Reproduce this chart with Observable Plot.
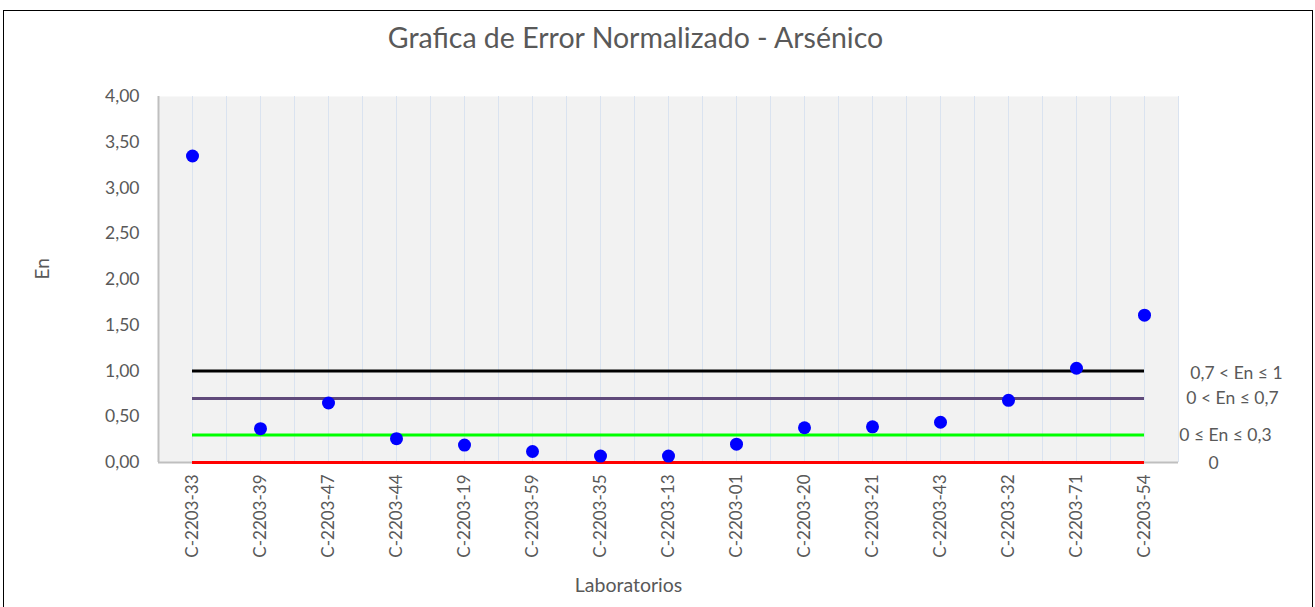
<!DOCTYPE html>
<html><head><meta charset="utf-8">
<script src="https://cdn.jsdelivr.net/npm/d3@7"></script>
<script src="https://cdn.jsdelivr.net/npm/@observablehq/plot@0.6"></script>
<style>
body{margin:0;background:#fff;}
#wrap{position:relative;width:1315px;height:607px;overflow:hidden;}
#border{position:absolute;left:3px;top:10px;width:1310px;height:610px;border:1px solid #000;box-sizing:border-box;}
#chart{position:absolute;left:0;top:0;}
</style></head><body><div id="wrap"><div id="border"></div><div id="chart"></div></div>
<script>
const labs = ["C-2203-33","C-2203-39","C-2203-47","C-2203-44","C-2203-19","C-2203-59","C-2203-35","C-2203-13","C-2203-01","C-2203-20","C-2203-21","C-2203-43","C-2203-32","C-2203-71","C-2203-54"];
const en = [3.35, 0.37, 0.65, 0.26, 0.19, 0.12, 0.07, 0.07, 0.20, 0.38, 0.39, 0.44, 0.68, 1.03, 1.61];
const yTicks = [0, 0.5, 1, 1.5, 2, 2.5, 3, 3.5, 4];
const limitValues = [1, 0.7, 0.3, 0];
const limitColors = ["#000000", "#604a7b", "#00ff00", "#ff0000"];
const limitLabels = ["0,7 < En ≤ 1", "0 < En ≤ 0,7", "0 ≤ En ≤ 0,3", "0"];
const title = "Grafica de Error Normalizado - Arsénico";

const points = labs.map((l, i) => ({lab: l, en: en[i]}));
const limits = limitValues.map((v, i) => ({v, c: limitColors[i], t: limitLabels[i]}));

const W = 1315, H = 607, ML = 158, MR = 137, MT = 96, MB = 145;
const half = (W - ML - MR) / labs.length / 2;
const font = "Lato, 'Open Sans', sans-serif";
const txt = "#595959";
const last = labs[labs.length - 1];

const chart = Plot.plot({
  width: W, height: H,
  marginLeft: ML, marginRight: MR, marginTop: MT, marginBottom: MB,
  style: {fontFamily: font, color: txt, background: "transparent"},
  x: {type: "point", domain: labs, padding: 0.5},
  y: {domain: [0, 4]},
  color: {type: "identity"},
  marks: [
    Plot.frame({fill: "#f2f2f2", stroke: null}),
    Plot.ruleX(labs, {x: d => d, stroke: "#dae3f0", strokeWidth: 1}),
    Plot.ruleX(labs, {x: d => d, dx: half, stroke: "#dae3f0", strokeWidth: 1}),
    Plot.ruleX(labs.slice(1), {x: d => d, dx: -half, stroke: "#dae3f0", strokeWidth: 1}),
    Plot.ruleX([labs[0]], {x: d => d, dx: -half, stroke: "#bfbfbf", strokeWidth: 2}),
    Plot.ruleY([0], {stroke: "#bfbfbf", strokeWidth: 2}),
    Plot.ruleY(limits, {y: "v", x1: () => labs[0], x2: () => last, stroke: "c", strokeWidth: 3}),
    Plot.dot(points, {x: "lab", y: "en", r: 6.5, fill: "#0000ff", stroke: null}),
    Plot.axisY({ticks: yTicks, tickFormat: d => d.toFixed(2).replace(".", ","), tickSize: 0, tickPadding: 19, fontSize: 17.5, label: null}),
    Plot.axisX({tickRotate: -90, tickSize: 0, tickPadding: 12, fontSize: 17, label: null}),
    Plot.text([limits[0]], {x: () => last, y: "v", text: "t", dx: 92, dy: 2, fontSize: 17.5, fill: txt}),
    Plot.text([limits[1]], {x: () => last, y: "v", text: "t", dx: 88, dy: 0, fontSize: 17.5, fill: txt}),
    Plot.text([limits[2]], {x: () => last, y: "v", text: "t", dx: 81, dy: 0, fontSize: 17.5, fill: txt}),
    Plot.text([limits[3]], {x: () => last, y: "v", text: "t", dx: 69, dy: 1, fontSize: 17.5, fill: txt}),
    Plot.text([title], {text: d => d, frameAnchor: "top", lineAnchor: "middle", dx: -33, dy: -58, fontSize: 28.5, fill: txt}),
    Plot.text(["En"], {text: d => d, frameAnchor: "left", lineAnchor: "middle", dx: -116, dy: 0, rotate: -90, fontSize: 19, fill: txt}),
    Plot.text(["Laboratorios"], {text: d => d, frameAnchor: "bottom", lineAnchor: "middle", dx: -40, dy: 123, fontSize: 19.5, fill: txt})
  ]
});
document.getElementById("chart").appendChild(chart);
</script>
</body></html>
